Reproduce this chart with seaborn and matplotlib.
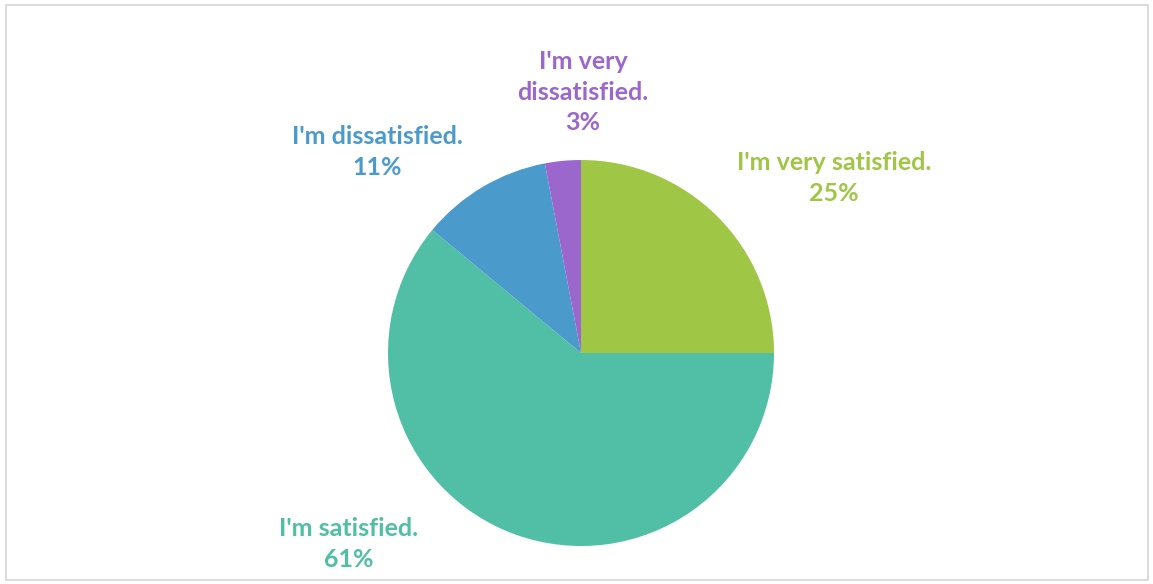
import matplotlib
matplotlib.use("Agg")
import matplotlib.pyplot as plt
from matplotlib.patches import Rectangle
import seaborn as sns

# Survey responses, in drawing order (clockwise from 12 o'clock)
categories = ["I'm very satisfied.", "I'm satisfied.", "I'm dissatisfied.", "I'm very dissatisfied."]
shares = [25, 61, 11, 3]
label_lines = [
    "I'm very satisfied.\n25%",
    "I'm satisfied.\n61%",
    "I'm dissatisfied.\n11%",
    "I'm very\ndissatisfied.\n3%",
]
colors = ["#9FC645", "#50BFA5", "#4A9BCC", "#9B67CC"]

sns.set_theme(style="white")
plt.rcParams["font.family"] = ["Lato", "DejaVu Sans"]

W, H = 1153, 584
fig = plt.figure(figsize=(W / 100, H / 100), dpi=100)
ax = fig.add_axes([0, 0, 1, 1])

cx, cy, r = 581, H - 353, 193
ax.pie(
    shares,
    colors=colors,
    startangle=90,
    counterclock=False,
    center=(cx, cy),
    radius=r,
    frame=True,
    wedgeprops=dict(edgecolor="none", linewidth=0),
)
ax.set_xlim(0, W)
ax.set_ylim(0, H)
ax.set_aspect("equal")
ax.axis("off")

# Label anchor points (pixel space, y measured from the top)
label_pos = [(834, 178), (349, 544), (377, 152), (583, 92)]
for text, color, (x, y) in zip(label_lines, colors, label_pos):
    ax.text(x, H - y, text, color=color, fontsize=18, fontweight="bold",
            ha="center", va="center", linespacing=1.42)

# Light chart-area border
fig.patches.append(Rectangle((5.5 / W, 4.5 / H), (1148 - 5.5) / W, (579.5 - 4.5) / H,
                             transform=fig.transFigure, fill=False,
                             edgecolor="#D9D9D9", linewidth=1.3))

fig.savefig("out.png", dpi=100)
